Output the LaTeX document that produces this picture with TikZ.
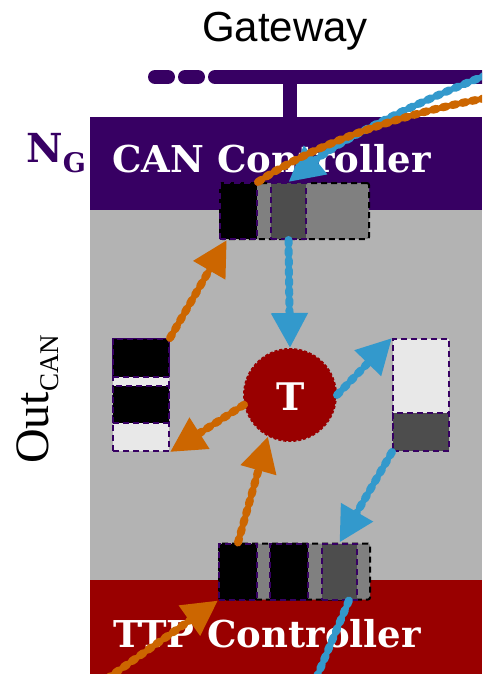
\documentclass[tikz,border=0pt]{standalone}
\usepackage{fontspec}
\setmainfont{Liberation Serif}
\newfontfamily\slabfont{DejaVu Serif}
\newfontfamily\gwfont{Liberation Sans}
\usetikzlibrary{arrows.meta}
\definecolor{ngpurple}{RGB}{55,0,99}
\definecolor{ttpred}{RGB}{153,0,0}
\definecolor{msgorange}{RGB}{204,102,0}
\definecolor{msgblue}{RGB}{51,153,204}
\definecolor{bggray}{RGB}{179,179,179}
\definecolor{midgray}{RGB}{128,128,128}
\definecolor{darkcell}{RGB}{77,77,77}
\definecolor{lightcell}{RGB}{232,232,232}
\tikzset{
  cell/.style={draw=ngpurple, dash pattern=on 6pt off 4pt, line width=2pt,
    inner sep=0pt, minimum height=56pt},
  buffer/.style={draw=black, dash pattern=on 6pt off 4pt, line width=2pt,
    fill=midgray, rounded corners=2pt, inner sep=0pt, minimum height=56pt},
  stack/.style={cell, fill=lightcell, minimum width=56pt, minimum height=112pt},
  area/.style={inner sep=0pt, minimum width=392pt},
  msg/.style={line width=8pt, line cap=round, dash pattern=on 4pt off 6pt,
    -{Triangle[length=35pt,width=35pt]}},
  wire/.style={msg, -},
  ctrltext/.style={text=white, font=\slabfont\bfseries\fontsize{37}{37}\selectfont, inner sep=0pt},
}
\begin{document}
\begin{tikzpicture}[x=1pt,y=-1pt]
  \useasboundingbox (0,0) rectangle (482,674);
  \clip (0,0) rectangle (482,674);
  % controller areas
  \node[area, fill=ngpurple, minimum height=93pt] (canctl) at (286,163.5) {};
  \node[area, fill=bggray, minimum height=370pt] (hostarea) at (286,395) {};
  \node[area, fill=ttpred, minimum height=94pt] (ttpctl) at (286,627) {};
  % bus to the gateway
  \coordinate (busA) at (155,77);
  \coordinate (busB) at (185,77);
  \coordinate (busC) at (215,77);
  \coordinate (busR) at (495,77);
  \coordinate (tap) at (290,77);
  \draw[ngpurple, line width=14pt, line cap=round] (busA) -- ++(13,0);
  \draw[ngpurple, line width=14pt, line cap=round] (busB) -- ++(13,0);
  \draw[ngpurple, line width=14pt, line cap=round] (busC) -- (busR);
  \draw[ngpurple, line width=14pt] (tap) -- (tap |- canctl.north);
  % labels
  \node[anchor=base, inner sep=0pt, font=\gwfont\fontsize{42}{42}\selectfont] (gw) at (285,42) {Gateway};
  \node[anchor=base west, inner sep=0pt, text=ngpurple, font=\slabfont\bfseries\fontsize{40}{40}\selectfont]
    (ng) at (26,162) {N\raisebox{-10pt}{\fontsize{27}{27}\selectfont G}};
  \node[anchor=base west, rotate=90, inner sep=0pt, font=\fontsize{48}{48}\selectfont]
    (out) at (48,464) {Out\raisebox{-10pt}{\fontsize{27}{27}\selectfont CAN}};
  \node[ctrltext, anchor=base] (cantxt) at (271.5,172) {CAN Controller};
  \node[ctrltext, anchor=base] (ttptxt) at (267,647) {TTP Controller};
  % buffers
  \node[buffer, minimum width=149pt] (topbuf) at (294.5,211) {};
  \node[cell, fill=black, minimum width=37pt] (tb1) at (238.5,211) {};
  \node[cell, fill=darkcell, minimum width=35pt] (tb2) at (288.5,211) {};
  \node[buffer, minimum width=151pt] (botbuf) at (294.5,571.5) {};
  \node[cell, fill=black, minimum width=38pt] (bb1) at (238,571.5) {};
  \node[cell, fill=black, minimum width=38pt] (bb2) at (289,571.5) {};
  \node[cell, fill=darkcell, minimum width=35pt] (bb3) at (339.5,571.5) {};
  \node[stack] (lstack) at (141,395) {};
  \node[cell, fill=black, minimum width=56pt, minimum height=38pt] (ls1) at (141,358) {};
  \node[cell, fill=black, minimum width=56pt, minimum height=37pt] (ls2) at (141,404.5) {};
  \node[stack] (rstack) at (421,395) {};
  \node[cell, fill=darkcell, minimum width=56pt, minimum height=38pt] (rs2) at (421,432) {};
  % task
  \node[circle, fill=ttpred, draw=ttpred, dash pattern=on 3pt off 2pt, line width=2pt,
    minimum size=92pt, inner sep=0pt] (task) at (290,395) {};
  \node[anchor=base, text=white, inner sep=0pt, font=\slabfont\bfseries\fontsize{38}{38}\selectfont]
    (tasktxt) at (290.5,410) {T};
  % messages
  \coordinate (blueIn) at (505,68);
  \coordinate (blueOut) at (305,705);
  \coordinate (orangeOut) at (505,95);
  \coordinate (orangeIn) at (91,690);
  \draw[msg, msgblue] (blueIn) .. controls (420,100) and (340,140) .. (tb2.north);
  \draw[wire, msgorange] (tb1.north east) .. controls (320,140) and (420,108) .. (orangeOut);
  \draw[msg, msgblue] (tb2.south) -- (task.north);
  \draw[msg, msgblue] (task.east) -- (rstack.north west);
  \draw[msg, msgblue] (rstack.south west) -- (bb3.north);
  \draw[wire, msgblue] (bb3.-72) -- (blueOut);
  \draw[msg, msgorange] (lstack.north east) -- (tb1.-112);
  \draw[msg, msgorange] (task.-168) -- (lstack.south east);
  \draw[msg, msgorange] (bb1.north) -- (task.-118);
  \draw[msg, msgorange] (orangeIn) -- (bb1.south west);
\end{tikzpicture}
\end{document}
